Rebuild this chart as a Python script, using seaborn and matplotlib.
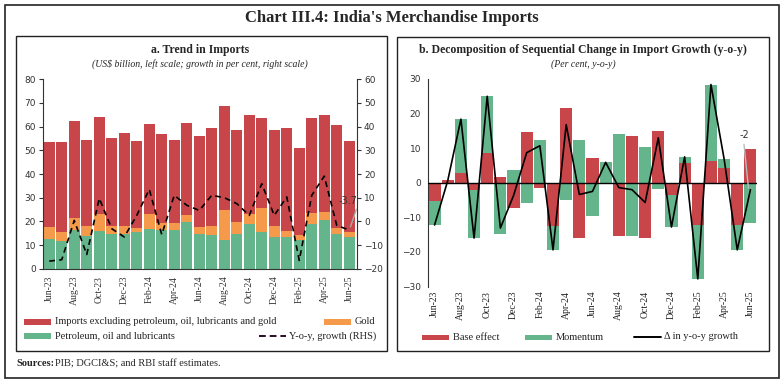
import numpy as np
import matplotlib
matplotlib.use("Agg")
import matplotlib.pyplot as plt
import seaborn as sns
from matplotlib.patches import Rectangle
from matplotlib.lines import Line2D

months = ['Jun-23', 'Jul-23', 'Aug-23', 'Sep-23', 'Oct-23', 'Nov-23', 'Dec-23',
          'Jan-24', 'Feb-24', 'Mar-24', 'Apr-24', 'May-24', 'Jun-24', 'Jul-24',
          'Aug-24', 'Sep-24', 'Oct-24', 'Nov-24', 'Dec-24', 'Jan-25', 'Feb-25',
          'Mar-25', 'Apr-25', 'May-25', 'Jun-25']

# panel a: US$ billion
petroleum = [12.4, 11.8, 16.2, 13.8, 16.1, 14.7, 14.5, 15.5, 16.8, 16.2, 16.3, 19.7, 14.8,
             14.4, 12.1, 14.6, 18.8, 15.6, 13.5, 13.2, 12.1, 18.9, 20.7, 14.5, 13.5]
gold = [5.1, 3.6, 5.1, 4.2, 7.2, 3.5, 3.5, 1.8, 6.3, 3.2, 3.0, 3.0, 2.7,
        3.6, 12.5, 5.0, 4.2, 10.0, 4.7, 2.7, 2.1, 4.5, 3.1, 2.8, 2.0]
other = [36.0, 38.0, 41.1, 36.5, 40.6, 36.9, 39.2, 36.6, 37.9, 37.6, 35.2, 39.0, 38.5,
         41.5, 44.0, 39.1, 42.0, 38.2, 40.2, 43.6, 36.7, 40.1, 41.0, 43.3, 38.4]
# y-o-y growth, per cent (RHS)
growth = [-16.8, -16.2, 0.4, -14.0, 9.7, -3.1, -6.6, 2.5, 13.5, -5.6, 11.0, 6.8, 4.6,
          11.0, 10.0, 7.5, 2.5, 15.9, 2.5, 10.3, -16.5, 11.0, 19.1, -1.7, -3.7]

# panel b: per cent
base_effect = [-5.2, 0.9, 2.9, -2.2, 8.7, 1.7, -7.4, 14.6, -1.6, -12.6, 21.5, -16.0, 7.2,
               0.0, -15.5, 13.5, -16.0, 14.9, -3.6, 5.7, -12.1, 6.3, 4.3, -12.3, 9.8]
momentum = [-7.0, -0.3, 15.5, -13.8, 16.3, -14.8, 3.7, -5.9, 12.3, -6.8, -4.9, 12.3, -9.7,
            5.9, 14.1, -15.5, 10.3, -1.9, -9.2, 1.8, -15.7, 22.1, 2.6, -7.1, -11.7]
delta_growth = [-12.2, 0.6, 18.4, -16.0, 25.0, -13.1, -3.7, 8.7, 10.7, -19.4, 16.8, -3.4, -2.5,
                5.9, -1.4, -2.0, -5.7, 13.0, -12.8, 7.5, -27.8, 28.4, 6.9, -19.4, -2.0]

RED = '#C8464A'
ORANGE = '#F49A4A'
GREEN = '#64B48C'
SERIF = 'Liberation Serif'

sns.set_style('white')
plt.rcParams['font.family'] = [SERIF, 'DejaVu Sans']

W, H = 784, 385
def fx(x): return x / W
def fy(y): return 1 - y / H

fig = plt.figure(figsize=(7.84, 3.85), dpi=100)

# frames
fig.patches.append(Rectangle((fx(5), fy(378)), fx(773.7), fy(5) - fy(378), transform=fig.transFigure,
                             fill=False, ec='#222', lw=1.2))
fig.patches.append(Rectangle((fx(15.7), fy(351)), fx(371), fy(36) - fy(351), transform=fig.transFigure,
                             fill=False, ec='#222', lw=1.0))
fig.patches.append(Rectangle((fx(397), fy(351)), fx(371.7), fy(36.7) - fy(351), transform=fig.transFigure,
                             fill=False, ec='#222', lw=1.0))

fig.text(0.5, fy(18), "Chart III.4: India's Merchandise Imports", ha='center', va='center',
         fontsize=12, fontweight='bold')
fig.text(fx(200), fy(50), 'a. Trend in Imports', ha='center', va='center', fontsize=8.5, fontweight='bold')
fig.text(fx(200), fy(64), '(US$ billion, left scale; growth in per cent, right scale)', ha='center',
         va='center', fontsize=7, style='italic')
fig.text(fx(583), fy(50), 'b. Decomposition of Sequential Change in Import Growth (y-o-y)', ha='center',
         va='center', fontsize=8.5, fontweight='bold')
fig.text(fx(583), fy(64), '(Per cent, y-o-y)', ha='center', va='center', fontsize=7, style='italic')
fig.text(fx(16), fy(364), 'Sources:', ha='left', va='center', fontsize=7.5, fontweight='bold')
fig.text(fx(55), fy(364), 'PIB; DGCI&S; and RBI staff estimates.', ha='left', va='center', fontsize=7.5)

# ---- panel a
ax1 = fig.add_axes([fx(43), fy(268.7), fx(357) - fx(43), fy(79.3) - fy(268.7)])
pet = np.array(petroleum)
pg = pet + np.array(gold)
tot = pg + np.array(other)
sns.barplot(x=months, y=tot, color=RED, saturation=1, width=0.9, linewidth=0, ax=ax1)
sns.barplot(x=months, y=pg, color=ORANGE, saturation=1, width=0.9, linewidth=0, ax=ax1)
sns.barplot(x=months, y=pet, color=GREEN, saturation=1, width=0.9, linewidth=0, ax=ax1)
ax1.set_xlim(-0.5, 24.62)
ax1.set_ylim(0, 80)
ax1.set_yticks(range(0, 81, 10))
ax1.set_xticks(range(25))
ax1.set_xticklabels([m if i % 2 == 0 else '' for i, m in enumerate(months)], rotation=90,
                    fontsize=7, family=SERIF, color='#222')
ax1.set_xlabel('')
ax1.set_ylabel('')

ax2 = ax1.twinx()
sns.lineplot(x=np.arange(25), y=growth, color='black', lw=1.2, ax=ax2)
ax2.lines[-1].set_linestyle((0, (3.5, 2.5)))
ax2.set_ylim(-20, 60)
ax2.set_yticks(range(-20, 61, 10))
ax2.annotate('-3.7', xy=(24.1, -2.3), xytext=(23.9, 8.6), ha='center', va='center', fontsize=7,
             family='DejaVu Sans', color='#333',
             arrowprops=dict(arrowstyle='-', color='#aaa', lw=1.0, relpos=(1, 0), shrinkA=0, shrinkB=0))

for a in (ax1, ax2):
    a.tick_params(axis='y', labelsize=6.5, colors='#333', length=3, width=0.8, pad=2)
    a.tick_params(axis='x', length=3, width=0.8, pad=2, colors='#333')
    for lab in a.get_yticklabels():
        lab.set_family('DejaVu Sans')
    a.spines['top'].set_visible(False)
    for s in a.spines.values():
        s.set_color('#333')
        s.set_linewidth(0.8)
ax1.spines['right'].set_visible(False)
ax2.spines['left'].set_visible(False)
ax2.spines['bottom'].set_visible(False)

# ---- panel b
ax3 = fig.add_axes([fx(428), fy(286.5), fx(757) - fx(428), fy(79) - fy(286.5)])
b = np.array(base_effect)
m = np.array(momentum)
green_ext = np.where(np.sign(b) == np.sign(m), b + m, m)
sns.barplot(x=months, y=green_ext, color=GREEN, saturation=1, width=0.92, linewidth=0, ax=ax3)
sns.barplot(x=months, y=b, color=RED, saturation=1, width=0.92, linewidth=0, ax=ax3)
ax3.axhline(0, color='black', lw=1.0, zorder=3)
sns.lineplot(x=np.arange(25), y=delta_growth, color='black', lw=1.2, ax=ax3, zorder=4)
ax3.annotate('-2', xy=(23.85, -1.5), xytext=(23.55, 13.9), ha='center', va='center', fontsize=7,
             family='DejaVu Sans', color='#333',
             arrowprops=dict(arrowstyle='-', color='#bbb', lw=1.0, relpos=(0.4, 0), shrinkA=1, shrinkB=0))
ax3.set_xlim(-0.5, 24.5)
ax3.set_ylim(-30, 30)
ax3.set_yticks(range(-30, 31, 10))
ax3.set_xticks(range(0, 25, 2))
ax3.set_xticklabels(months[::2], rotation=90, fontsize=7, family=SERIF, color='#222')
ax3.set_xlabel('')
ax3.set_ylabel('')
ax3.tick_params(axis='y', labelsize=6.5, colors='#333', length=3, width=0.8, pad=2)
ax3.tick_params(axis='x', length=0, pad=3)
for lab in ax3.get_yticklabels():
    lab.set_family('DejaVu Sans')
for s in ('top', 'right', 'bottom'):
    ax3.spines[s].set_visible(False)
ax3.spines['left'].set_color('#333')
ax3.spines['left'].set_linewidth(0.8)

# ---- legends
def patch_key(x0, y, color, label):
    fig.patches.append(Rectangle((fx(x0), fy(y + 2.7)), fx(26.7), fy(y - 2.7) - fy(y + 2.7),
                                 transform=fig.transFigure, color=color, lw=0))
    fig.text(fx(x0 + 31), fy(y), label, ha='left', va='center', fontsize=7.5, color='#222')

def line_key(x0, y, style, label):
    fig.lines.append(Line2D([fx(x0), fx(x0 + 27)], [fy(y), fy(y)], transform=fig.transFigure,
                            color='black' if style == '-' else '#2a0a2a', lw=1.4,
                            linestyle=style if style == '-' else (0, (3.5, 2))))
    fig.text(fx(x0 + 30), fy(y), label, ha='left', va='center', fontsize=7.5, color='#222')

patch_key(24, 322, RED, 'Imports excluding petroleum, oil, lubricants and gold')
patch_key(324, 322, ORANGE, 'Gold')
patch_key(24, 336, GREEN, 'Petroleum, oil and lubricants')
line_key(259, 336, '--', 'Y-o-y, growth (RHS)')

patch_key(422, 337.5, RED, 'Base effect')
patch_key(525, 337.5, GREEN, 'Momentum')
line_key(634, 336.5, '-', '\u0394 in y-o-y growth')

fig.savefig('out.png', dpi=100)
